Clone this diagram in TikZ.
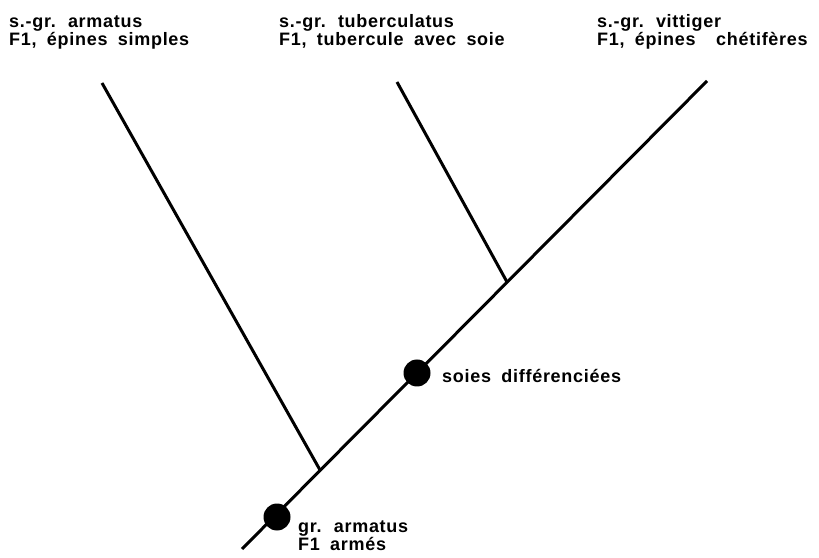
\documentclass[tikz,border=0pt]{standalone}
\usepackage{fontspec}
\setmainfont{Liberation Sans}[LetterSpace=4, WordSpace=1.8]
\begin{document}
\begin{tikzpicture}[x=1pt,y=1pt,
  lbl/.style={anchor=base west, inner sep=0pt, font=\fontsize{18}{20}\selectfont\bfseries},
  branch/.style={line width=3pt, line cap=butt},
  dot/.style={circle, fill=black, minimum size=27pt, inner sep=0pt}]
\useasboundingbox (0,0) rectangle (819,557);
% trunk
\coordinate (root) at (242,8);
\coordinate (ttop) at (707,476);
\coordinate (j1) at (320,87);
\coordinate (j2) at (507,275);
\coordinate (ltop) at (102,474);
\coordinate (mtop) at (397,475);
\draw[branch] (root) -- (ttop);
\draw[branch] (j1) -- (ltop);
\draw[branch] (j2) -- (mtop);
\node[dot] (d1) at (277,40) {};
\node[dot] (d2) at (417,184) {};
% labels
\node[lbl] (a1) at (9,529) {s.-gr. armatus};
\node[lbl] (a2) at (9,511) {F1, épines simples};
\node[lbl] (b1) at (279,529) {s.-gr. tuberculatus};
\node[lbl] (b2) at (279,511) {F1, tubercule avec soie};
\node[lbl] (c1) at (597,529) {s.-gr. vittiger};
\node[lbl] (c2) at (597,511) {F1, épines \ chétifères};
\node[lbl] (s) at (442,174) {soies différenciées};
\node[lbl] (g1) at (298,25) {gr. armatus};
\node[lbl] (g2) at (298,7) {F1 armés};
\end{tikzpicture}
\end{document}
